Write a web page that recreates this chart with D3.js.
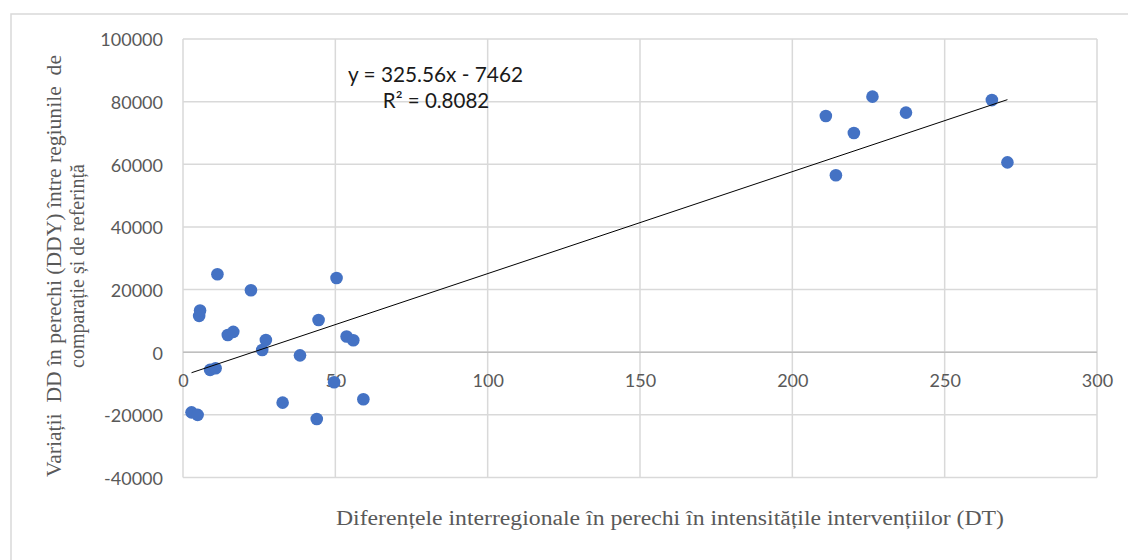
<!DOCTYPE html>
<html><head><meta charset="utf-8">
<script src="https://cdn.jsdelivr.net/npm/d3@7"></script>
<style>body{margin:0;background:#fff}svg{display:block}text{white-space:pre}</style>
</head><body>
<svg id="c" width="1128" height="560"></svg>
<script>
// Data
const dtValues = [2.8, 4.8, 5.3, 5.6, 11.3, 22.3, 14.7, 16.5, 8.9, 10.7, 26.0, 27.2, 38.4, 32.7, 43.9, 44.5, 50.4, 49.6, 53.7, 55.9, 59.2,
                  211.0, 226.3, 220.2, 237.3, 214.3, 265.5, 270.6];
const ddyValues = [-19200, -20000, 11600, 13300, 24900, 19800, 5500, 6500, -5650, -5100, 700, 3900, -1000, -16100, -21300, 10300, 23700, -9600, 5000, 3800, -15000,
                   75400, 81600, 70000, 76500, 56500, 80500, 60600];
const xTicks = [0, 50, 100, 150, 200, 250, 300];
const yTicks = [-40000, -20000, 0, 20000, 40000, 60000, 80000, 100000];
const trendSlope = 325.56, trendIntercept = -7462;
const eqLabel = "y = 325.56x - 7462";
const r2Label = "R² = 0.8082";
const xTitle = "Diferențele interregionale în perechi în intensitățile intervențiilor (DT)";
const yTitleLines = ["Variații  DD în perechi (DDY) între regiunile  de", "comparație și de referință"];

const svg = d3.select("#c");
const L = 183, R = 1097, T = 39, B = 477.5;
const x = d3.scaleLinear().domain([0, 300]).range([L, R]);
const y = d3.scaleLinear().domain([-40000, 100000]).range([B, T]);

// outer frame
svg.append("rect").attr("x", 11).attr("y", 14).attr("width", 1140).attr("height", 600)
  .attr("fill", "none").attr("stroke", "#d9d9d9").attr("stroke-width", 1.5);

// gridlines
svg.append("g").selectAll("line").data(yTicks).join("line")
  .attr("x1", L).attr("x2", R).attr("y1", d => y(d)).attr("y2", d => y(d))
  .attr("stroke", "#d9d9d9").attr("stroke-width", 1.5);
svg.append("g").selectAll("line").data(xTicks).join("line")
  .attr("x1", d => x(d)).attr("x2", d => x(d)).attr("y1", T).attr("y2", B)
  .attr("stroke", "#d9d9d9").attr("stroke-width", 1.5);
// zero axis line
svg.append("line").attr("x1", L).attr("x2", R).attr("y1", y(0)).attr("y2", y(0))
  .attr("stroke", "#bfbfbf").attr("stroke-width", 1.5);

const tickFont = "Lato, 'Open Sans', sans-serif";
const fmt = d => String(d);
// y axis labels
const ya = svg.append("g").attr("transform", `translate(${L},0)`)
  .call(d3.axisLeft(y).tickValues(yTicks).tickSize(0).tickPadding(20).tickFormat(fmt));
ya.select(".domain").remove();
ya.selectAll("text").attr("font-family", tickFont).attr("font-size", 18).attr("fill", "#595959").attr("dy", "0.38em");

// x axis labels at y=0
const xa = svg.append("g").attr("transform", `translate(0,${y(0)})`)
  .call(d3.axisBottom(x).tickValues(xTicks).tickSize(0).tickPadding(22).tickFormat(fmt));
xa.select(".domain").remove();
xa.selectAll("text").attr("font-family", tickFont).attr("font-size", 18).attr("fill", "#595959");

// points
svg.append("g").selectAll("circle").data(dtValues.map((d, i) => [d, ddyValues[i]])).join("circle")
  .attr("cx", d => x(d[0])).attr("cy", d => y(d[1])).attr("r", 6.3).attr("fill", "#4472C4");

// trendline
const x0 = d3.min(dtValues), x1 = d3.max(dtValues);
svg.append("line")
  .attr("x1", x(x0)).attr("y1", y(trendSlope * x0 + trendIntercept))
  .attr("x2", x(x1)).attr("y2", y(trendSlope * x1 + trendIntercept))
  .attr("stroke", "#000").attr("stroke-width", 1);

// equation label
const eq = svg.append("g").attr("font-family", tickFont).attr("font-size", 20.5).attr("fill", "#1a1a1a").attr("text-anchor", "middle");
eq.append("text").attr("x", 435.5).attr("y", 82).attr("textLength", 175).attr("lengthAdjust", "spacingAndGlyphs").text(eqLabel);
eq.append("text").attr("x", 436).attr("y", 108).text(r2Label);

// axis titles
const serif = "'Liberation Serif', 'Times New Roman', serif";
svg.append("text").attr("x", 670).attr("y", 525).attr("text-anchor", "middle")
  .attr("font-family", serif).attr("font-size", 20).attr("fill", "#595959")
  .attr("textLength", 668).attr("lengthAdjust", "spacingAndGlyphs").text(xTitle);
const yt = svg.append("g").attr("transform", "translate(0,266) rotate(-90)")
  .attr("font-family", serif).attr("font-size", 20).attr("fill", "#595959").attr("text-anchor", "middle");
yt.append("text").attr("x", 0).attr("y", 61).attr("textLength", 422).attr("lengthAdjust", "spacingAndGlyphs").text(yTitleLines[0]);
yt.append("text").attr("x", 0).attr("y", 84).text(yTitleLines[1]);
</script>
</body></html>
